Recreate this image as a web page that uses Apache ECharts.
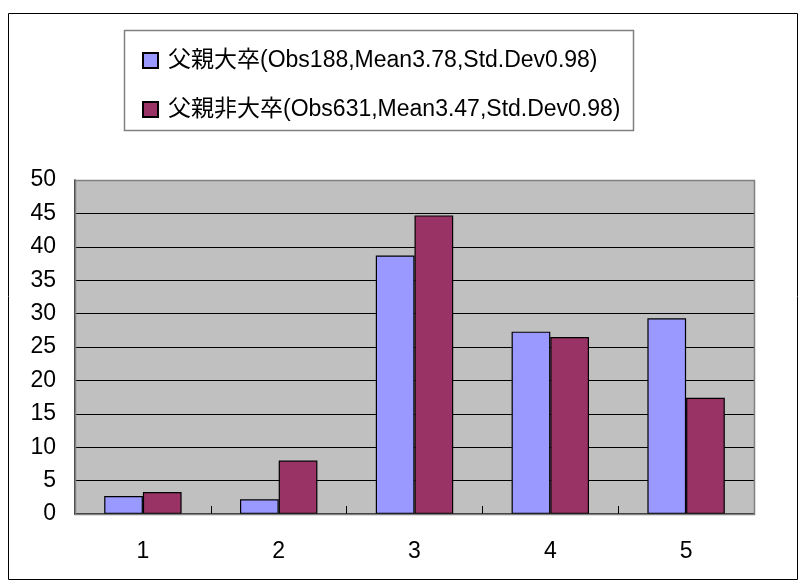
<!DOCTYPE html>
<html>
<head>
<meta charset="utf-8">
<script src="https://cdn.jsdelivr.net/npm/echarts@6/dist/echarts.min.js"></script>
<style>
  html, body { margin: 0; padding: 0; background: #fff; }
  #chart { width: 799px; height: 581px; }
</style>
</head>
<body>
<div id="chart"></div>
<script>
// Score categories on the x axis
const categories = ['1', '2', '3', '4', '5'];
// Share (%) of respondents per score
const collegeFather = [2.7, 2.2, 38.7, 27.3, 29.3];
const nonCollegeFather = [3.3, 8.0, 44.7, 26.5, 17.4];
const seriesNames = [
  '父親大卒(Obs188,Mean3.78,Std.Dev0.98)',
  '父親非大卒(Obs631,Mean3.47,Std.Dev0.98)'
];
const yTicks = { min: 0, max: 50, step: 5 };

const FONT = '"Liberation Sans", Arial, "Noto Sans CJK JP", sans-serif';

const chart = echarts.init(document.getElementById('chart'), null, { renderer: 'canvas' });

const grid = { left: 75, top: 180, width: 679, height: 334 };

chart.setOption({
  backgroundColor: '#fff',
  animation: false,
  textStyle: { fontFamily: FONT, color: '#000' },
  graphic: [
    // outer frame
    { type: 'rect', silent: true, z: -10,
      shape: { x: 8.5, y: 13.5, width: 789, height: 566 },
      style: { fill: '#fff', stroke: '#000', lineWidth: 1 } },
    // legend box
    { type: 'rect', silent: true, z: 1,
      shape: { x: 124.5, y: 30.5, width: 509, height: 100 },
      style: { fill: '#fff', stroke: '#808080', lineWidth: 1.5 } },
    // plot area border (top/right)
    { type: 'rect', silent: true, z: 5,
      shape: { x: grid.left + 0.5, y: grid.top + 0.5, width: grid.width, height: grid.height },
      style: { fill: 'none', stroke: '#808080', lineWidth: 1.5 } }
  ],
  legend: {
    orient: 'vertical',
    left: 137,
    top: 44,
    itemWidth: 15,
    itemHeight: 15,
    itemGap: 26,
    icon: 'rect',
    selectedMode: false,
    z: 10,
    textStyle: { fontFamily: FONT, fontSize: 23, color: '#000', padding: [0, 0, 0, 5] },
    data: seriesNames
  },
  grid: Object.assign({ backgroundColor: '#c0c0c0', show: true, borderWidth: 0 }, grid),
  xAxis: {
    type: 'category',
    data: categories,
    axisLine: { lineStyle: { color: '#000', width: 1.5 } },
    axisTick: { show: true, inside: true, length: 8, lineStyle: { color: '#000', width: 1 } },
    axisLabel: { fontSize: 23, color: '#000', margin: 26, fontFamily: FONT },
    splitLine: { show: false }
  },
  yAxis: {
    type: 'value',
    min: yTicks.min,
    max: yTicks.max,
    interval: yTicks.step,
    axisLine: { show: true, lineStyle: { color: '#000', width: 1.5 } },
    axisTick: { show: true, inside: true, length: 8, lineStyle: { color: '#000', width: 1 } },
    axisLabel: { fontSize: 23, color: '#000', margin: 19, fontFamily: FONT },
    splitLine: { show: true, lineStyle: { color: '#000', width: 1 } }
  },
  series: [
    {
      name: seriesNames[0],
      type: 'bar',
      data: collegeFather,
      barGap: '0%',
      barCategoryGap: '43%',
      itemStyle: { color: '#9999ff', borderColor: '#000', borderWidth: 1.2 }
    },
    {
      name: seriesNames[1],
      type: 'bar',
      data: nonCollegeFather,
      barGap: '0%',
      barCategoryGap: '43%',
      itemStyle: { color: '#993366', borderColor: '#000', borderWidth: 1.2 }
    }
  ]
});
</script>
</body>
</html>
